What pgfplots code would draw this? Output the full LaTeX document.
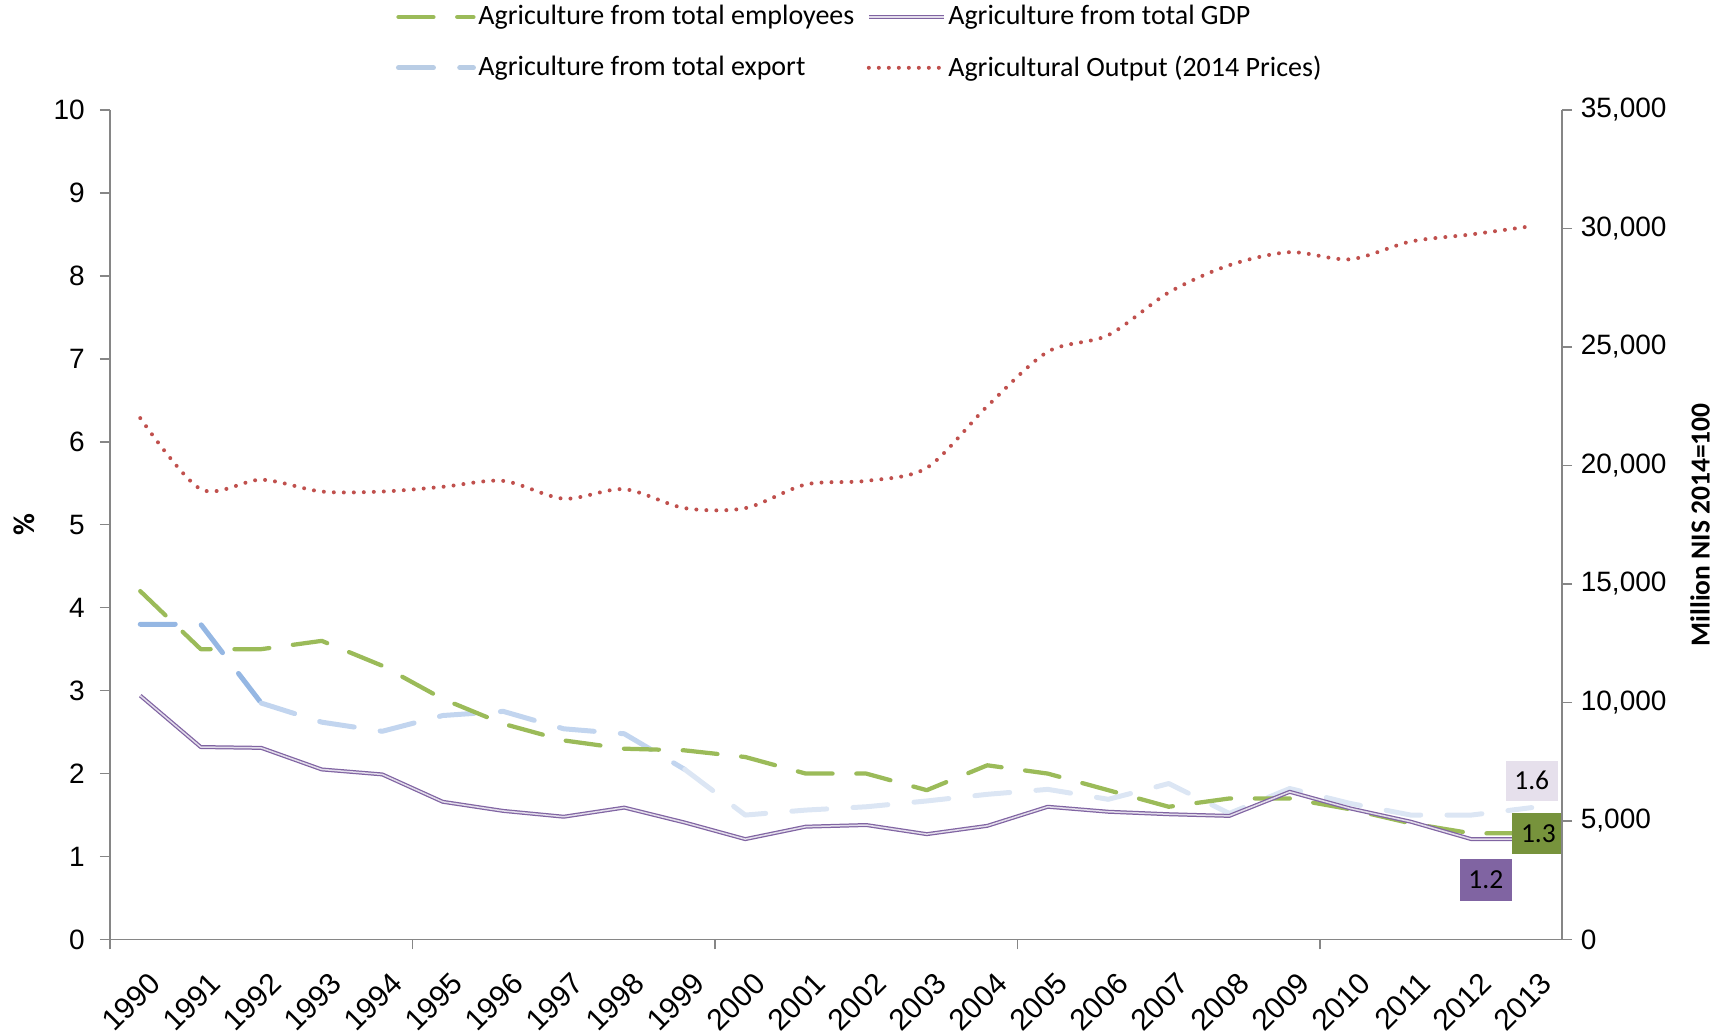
\documentclass[border=0pt]{standalone}
\usepackage{pgfplots}
\pgfplotsset{compat=1.18}
\usepackage{fontspec}
\setmainfont{Carlito}
\newfontfamily\tickfont{Liberation Sans}
\definecolor{axisgray}{HTML}{868686}
\definecolor{agreen}{HTML}{9BBB59}
\definecolor{apurple}{HTML}{8064A2}
\definecolor{ared}{HTML}{C0504D}
\definecolor{blueA}{HTML}{95B7E3}
\definecolor{blueB}{HTML}{C2D5EF}
\definecolor{blueC}{HTML}{DCE6F4}
\definecolor{blueL}{HTML}{B9CDE5}
\definecolor{lbgreen}{HTML}{77933C}
\definecolor{lblav}{HTML}{E6E0EC}
\tikzset{
  empstyle/.style={draw=agreen, line width=1.7pt, line cap=round, line join=round, dash pattern=on 14pt off 9.5pt},
  gdpstyle/.style={draw=apurple, double=apurple!22, double distance=0.6pt, line width=0.5pt, line join=round},
  expstyle/.style={line width=2pt, line cap=round, line join=round, dash pattern=on 14pt off 10.5pt},
  outstyle/.style={draw=ared, line width=1.6pt, line cap=round, dash pattern=on 0pt off 4pt},
}
\begin{document}
\begin{tikzpicture}
\path[use as bounding box] (-44pt,-38.2pt) rectangle (646pt,375.8pt);
\begin{axis}[
  at={(0pt,0pt)}, anchor=south west,
  scale only axis, width=580.8pt, height=331.8pt,
  xmin=-0.5, xmax=23.5, ymin=0, ymax=10,
  axis x line*=bottom, axis y line*=left,
  axis line style={draw=axisgray, line width=0.6pt},
  tick align=outside, major tick length=4pt,
  tick style={draw=axisgray, line width=0.6pt},
  ytick={0,1,...,10},
  /pgf/number format/assume math mode=true,
  yticklabel style={font=\tickfont\fontsize{11.2}{13}\selectfont, text=black, xshift=-2.6pt},
  xtick={0,1,...,23},
  xticklabels={1990,1991,1992,1993,1994,1995,1996,1997,1998,1999,2000,2001,2002,2003,2004,2005,2006,2007,2008,2009,2010,2011,2012,2013},
  xtick style={draw=none},
  xticklabel style={rotate=45, anchor=north east, font=\tickfont\fontsize{12}{13}\selectfont, text=black, yshift=-4.5pt, xshift=-0.5pt},
  extra x ticks={-0.5,4.5,9.5,14.5,19.5},
  extra x tick labels={},
  extra x tick style={xtick style={draw=axisgray, line width=0.6pt}},
  ylabel={\textbf{\%}},
  every axis y label/.style={at={(axis description cs:-0.0592,0.5)}, rotate=90, anchor=center, font=\fontsize{12}{13}\selectfont},
  legend columns=2,
  legend cell align=left,
  legend image code/.code={\draw[#1] (0pt,0pt) -- (30pt,0pt);},
  legend style={draw=none, fill=none, inner sep=0pt, row sep=8.8pt,
    at={(axis description cs:0.1966,1.1296)}, anchor=north west,
    font=\fontsize{11.2}{13}\selectfont,
    nodes={inner sep=1pt},
    /tikz/every even column/.append style={column sep=4pt}},
]
\addlegendimage{empstyle}
\addlegendentry{Agriculture from total employees}
\addlegendimage{gdpstyle}
\addlegendentry{Agriculture from total GDP}
\addlegendimage{expstyle, draw=blueL}
\addlegendentry{Agriculture from total export}
\addlegendimage{outstyle}
\addlegendentry{Agricultural Output (2014 Prices)}
% export (gradient approximated by segments)
\addplot[forget plot, expstyle, draw=blueA] coordinates {(0,3.8) (1,3.8) (2,2.85)};
\addplot[forget plot, expstyle, draw=blueB] coordinates {(2,2.85) (3,2.62) (4,2.51) (5,2.70) (6,2.75) (7,2.54) (8,2.48) (9,2.05)};
\addplot[forget plot, expstyle, draw=blueC] coordinates {(9,2.05) (10,1.50) (11,1.56) (12,1.60) (13,1.67) (14,1.75) (15,1.81) (16,1.69) (17,1.88) (18,1.52) (19,1.82) (20,1.64) (21,1.50) (22,1.50) (23,1.59)};
% employees
\addplot[forget plot, empstyle] coordinates {(0,4.2) (1,3.5) (2,3.5) (3,3.6) (4,3.3) (5,2.9) (6,2.6) (7,2.4) (8,2.3) (9,2.28) (10,2.2) (11,2.0) (12,2.0) (13,1.8) (14,2.1) (15,2.0) (16,1.8) (17,1.6) (18,1.7) (19,1.7) (20,1.57) (21,1.4) (22,1.28) (23,1.28)};
% GDP
\addplot[forget plot, gdpstyle] coordinates {(0,2.94) (1,2.32) (2,2.31) (3,2.05) (4,1.99) (5,1.66) (6,1.55) (7,1.48) (8,1.59) (9,1.41) (10,1.21) (11,1.36) (12,1.38) (13,1.27) (14,1.37) (15,1.60) (16,1.54) (17,1.51) (18,1.49) (19,1.78) (20,1.58) (21,1.42) (22,1.21) (23,1.21)};
\node[fill=lblav, minimum width=21pt, minimum height=16pt, inner sep=0pt, font=\fontsize{11}{12}\selectfont] at (axis cs:23.0,1.914) {1.6};
\node[fill=lbgreen, minimum width=21pt, minimum height=16.5pt, inner sep=0pt, font=\fontsize{11}{12}\selectfont] at (axis cs:23.11,1.276) {1.3};
\node[fill=apurple, minimum width=21pt, minimum height=16.5pt, inner sep=0pt, font=\fontsize{11}{12}\selectfont] at (axis cs:22.24,0.718) {1.2};
\end{axis}
\begin{axis}[
  at={(0pt,0pt)}, anchor=south west,
  scale only axis, width=580.8pt, height=331.8pt,
  xmin=-0.5, xmax=23.5, ymin=0, ymax=35000,
  axis x line=none, axis y line*=right,
  axis line style={draw=axisgray, line width=0.6pt},
  tick align=outside, major tick length=4pt,
  tick style={draw=axisgray, line width=0.6pt},
  ytick={0,5000,...,35000},
  scaled y ticks=false,
  /pgf/number format/assume math mode=true,
  /pgf/number format/1000 sep={,},
  yticklabel style={font=\tickfont\fontsize{11.2}{13}\selectfont, text=black},
  ylabel={\textbf{Million NIS 2014=100}},
  every axis y label/.style={at={(axis description cs:1.095,0.5)}, rotate=90, anchor=center, font=\fontsize{11}{13}\selectfont},
]
\addplot[outstyle, smooth, tension=0.5] coordinates {(0,22000) (1,19000) (2,19400) (3,18900) (4,18900) (5,19100) (6,19350) (7,18600) (8,19000) (9,18200) (10,18200) (11,19200) (12,19350) (13,19900) (14,22500) (15,24800) (16,25500) (17,27300) (18,28450) (19,29000) (20,28700) (21,29450) (22,29750) (23,30100)};
\end{axis}
\end{tikzpicture}
\end{document}
